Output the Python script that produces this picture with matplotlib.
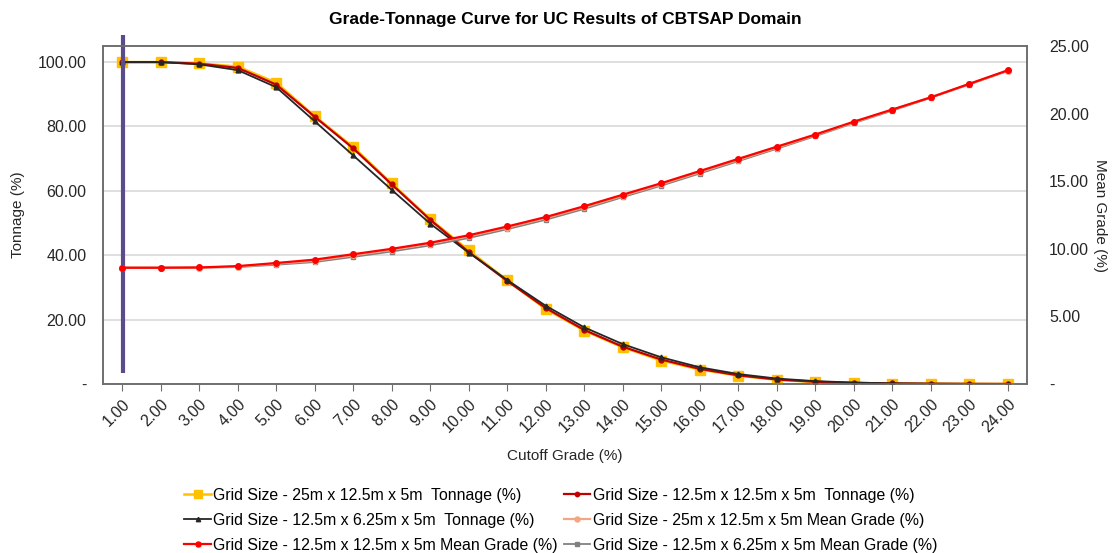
import matplotlib
matplotlib.use("Agg")
import matplotlib.pyplot as plt
from matplotlib.ticker import FuncFormatter

plt.rcParams['font.family'] = ['Liberation Sans', 'DejaVu Sans']

# Cutoff grades (%)
cutoff = [1, 2, 3, 4, 5, 6, 7, 8, 9, 10, 11, 12, 13, 14, 15, 16, 17, 18, 19, 20, 21, 22, 23, 24]
cutoff_labels = [f"{c:.2f}" for c in cutoff]

# Tonnage (%) above cutoff
tonnage_25x125 = [100, 100, 99.6, 98.6, 93.6, 83.2, 73.6, 62.3, 51.2, 41.5, 32.2, 23.3,
                  16.6, 11.4, 7.3, 4.5, 2.6, 1.3, 0.6, 0.3, 0.15, 0.08, 0.04, 0.02]
tonnage_125x125 = [100, 100, 99.5, 98.2, 93.0, 83.0, 73.2, 62.0, 51.0, 41.0, 32.0, 23.6,
                   16.8, 11.6, 7.6, 4.7, 2.7, 1.4, 0.7, 0.35, 0.17, 0.08, 0.04, 0.02]
tonnage_125x625 = [100, 100, 99.3, 97.5, 92.2, 81.6, 71.0, 60.3, 49.8, 40.8, 32.3, 24.3,
                   17.6, 12.4, 8.3, 5.2, 3.1, 1.7, 0.9, 0.45, 0.2, 0.1, 0.05, 0.02]

# Mean grade (%) above cutoff
grade_25x125 = [8.6, 8.6, 8.61, 8.68, 8.9, 9.12, 9.52, 9.93, 10.38, 10.93, 11.57, 12.27,
                13.07, 13.92, 14.77, 15.67, 16.57, 17.48, 18.4, 19.35, 20.27, 21.2, 22.18, 23.18]
grade_125x125 = [8.6, 8.6, 8.62, 8.72, 8.95, 9.2, 9.6, 10.0, 10.45, 11.0, 11.65, 12.35,
                 13.15, 14.0, 14.85, 15.75, 16.65, 17.55, 18.45, 19.4, 20.3, 21.2, 22.2, 23.2]
grade_125x625 = [8.6, 8.6, 8.6, 8.65, 8.82, 9.02, 9.4, 9.8, 10.25, 10.8, 11.45, 12.15,
                 12.95, 13.82, 14.67, 15.57, 16.48, 17.4, 18.33, 19.3, 20.22, 21.17, 22.15, 23.15]

# Reference cutoff marker
ref_cutoff = 1.02
ref_span = (3.4, 108.5)

fig = plt.figure(figsize=(11.15, 5.53), dpi=100)
ax = fig.add_axes([0.0924, 0.3056, 0.8286, 0.6112])
ax2 = ax.twinx()

x = list(range(len(cutoff)))
ref_x = x[0] + (ref_cutoff - cutoff[0])

h1, = ax.plot(x, tonnage_25x125, color='#FFC000', marker='s', markersize=7, lw=1.8,
              label='Grid Size - 25m x 12.5m x 5m  Tonnage (%)', zorder=3)
h2, = ax.plot(x, tonnage_125x125, color='#C00000', marker='o', markersize=3.5, lw=1.6,
              label='Grid Size - 12.5m x 12.5m x 5m  Tonnage (%)', zorder=4)
h3, = ax.plot(x, tonnage_125x625, color='#262626', marker='^', markersize=3.5, lw=1.3,
              label='Grid Size - 12.5m x 6.25m x 5m  Tonnage (%)', zorder=5)
h4, = ax2.plot(x, grade_25x125, color='#F4A582', marker='o', markersize=4, lw=1.6,
               label='Grid Size - 25m x 12.5m x 5m Mean Grade (%)', zorder=3)
h5, = ax2.plot(x, grade_125x125, color='#FF0000', marker='o', markersize=4, lw=1.6,
               label='Grid Size - 12.5m x 12.5m x 5m Mean Grade (%)', zorder=4)
h6, = ax2.plot(x, grade_125x625, color='#808080', marker='s', markersize=3.5, lw=1.3,
               label='Grid Size - 12.5m x 6.25m x 5m Mean Grade (%)', zorder=2)

ax.plot([ref_x, ref_x], list(ref_span), color='#5B4A8C', lw=3, clip_on=False,
        solid_capstyle='butt', zorder=6)

ax.set_xlim(-0.5, len(cutoff) - 0.5)
ax.set_ylim(0, 105)
ax2.set_ylim(0, 25)
ax.set_yticks([0, 20, 40, 60, 80, 100])
ax2.set_yticks([0, 5, 10, 15, 20, 25])

fmt = FuncFormatter(lambda v, p: '-' if abs(v) < 1e-9 else f"{v:.2f}")
ax.yaxis.set_major_formatter(fmt)
ax2.yaxis.set_major_formatter(fmt)

ax.set_xticks(x)
ax.set_xticklabels(cutoff_labels, rotation=45, ha='right', rotation_mode='anchor')

ax.grid(axis='y', color='#D9D9D9', lw=1.2)
ax.set_axisbelow(True)

for a in (ax, ax2):
    for s in a.spines.values():
        s.set_color('#6E6E6E')
        s.set_linewidth(1.2)
ax.tick_params(axis='y', length=0, labelsize=11.5, colors='#262626', pad=12)
ax2.tick_params(axis='y', length=0, labelsize=11.5, colors='#262626', pad=16)
ax.tick_params(axis='x', length=5, color='#6E6E6E', labelsize=11.5, colors='#262626', pad=4)

ax.set_xlabel('Cutoff Grade (%)', fontsize=11, color='#262626', labelpad=10)
ax.set_ylabel('Tonnage (%)', fontsize=11, color='#262626', labelpad=9)
ax2.set_ylabel('Mean Grade (%)', fontsize=11, color='#262626', rotation=-90, labelpad=13)

fig.suptitle('Grade-Tonnage Curve for UC Results of CBTSAP Domain', fontsize=12.5,
             fontweight='bold', x=0.507, y=0.978)

handles = [h1, h3, h5, h2, h4, h6]
fig.legend(handles=handles, labels=[h.get_label() for h in handles], ncol=2,
           loc='upper left', bbox_to_anchor=(0.158, 0.132), frameon=False,
           fontsize=11.4, handlelength=1.7, handletextpad=0.15, columnspacing=0.35,
           labelspacing=0.62, borderpad=0, markerscale=0.9)

fig.savefig('out.png', dpi=100)
